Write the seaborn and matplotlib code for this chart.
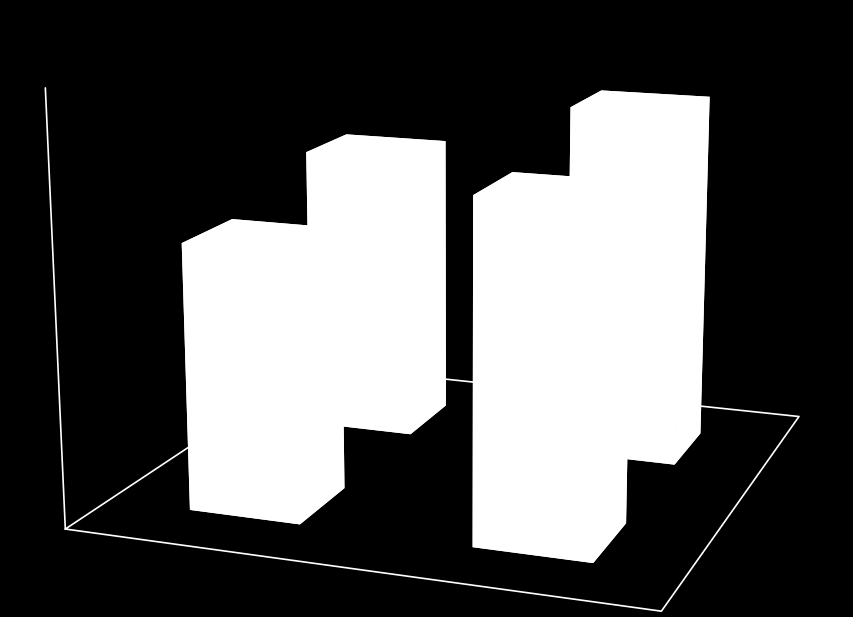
import numpy as np
import matplotlib
matplotlib.use("Agg")
import matplotlib.pyplot as plt
import seaborn as sns

# data: two groups along x, two series along depth
groups = ["Group 1", "Group 2"]
series = ["Series 1", "Series 2"]
front_vals = [63, 79]     # series 1 (front row)
back_vals = [71, 86.5]    # series 2 (back row)

sns.set_style("dark", {"axes.facecolor": "black", "figure.facecolor": "black"})

fig = plt.figure(figsize=(8.54, 6.17), dpi=100)
fig.patch.set_facecolor("black")
ax = fig.add_axes([0.028, 0.0515, 1, 1], projection="3d")
ax.set_facecolor("black")
ax.set_proj_type("persp", focal_length=0.67)

x_pos = np.array([0.6, 2.6])
y_pos = np.array([0.6, 2.6])
bw, bd = 0.8, 0.75

for row, vals in [(1, back_vals), (0, front_vals)]:
    for i, v in enumerate(vals):
        bars = ax.bar3d(x_pos[i], y_pos[row], 0, bw, bd, v,
                        color="white", shade=False, edgecolor="none")
        bars.set_clip_on(False)

xmax, ymax, zmax = 4, 4.0, 100
ax.set_xlim(0, xmax)
ax.set_ylim(0, ymax)
ax.set_zlim(0, zmax)
ax.set_box_aspect((4, 4.0, 2.9), zoom=1.456)
ax.set_axis_off()

# floor outline and vertical axis line
floor_x = [0, xmax, xmax, 0, 0]
floor_y = [0, 0, ymax, ymax, 0]
ax.plot(floor_x, floor_y, [0] * 5, color="white", lw=1.2, zorder=0, clip_on=False)
ax.plot([0, 0], [0, 0], [0, zmax], color="white", lw=1.2, clip_on=False, zorder=5)

ax.view_init(elev=14, azim=-70)

fig.savefig("out.png", dpi=100, facecolor="black")
